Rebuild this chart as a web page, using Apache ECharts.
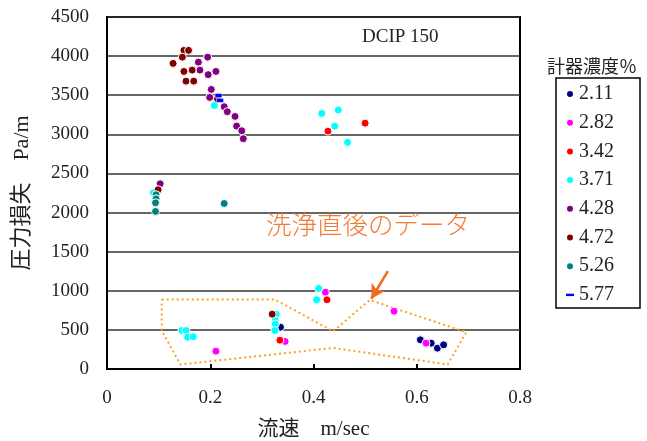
<!DOCTYPE html>
<html><head><meta charset="utf-8">
<script src="https://cdn.jsdelivr.net/npm/echarts@6/dist/echarts.min.js"></script>
<style>html,body{margin:0;padding:0;background:#fff}#c{width:647px;height:441px}</style>
</head><body><div id="c"></div>
<script>
// ---- data ----
const seriesNames = ['2.11', '2.82', '3.42', '3.71', '4.28', '4.72', '5.26', '5.77'];
const seriesColors = ['#000080', '#FF00FF', '#FF0000', '#00FFFF', '#800080', '#800000', '#008080', '#0000FF'];
const s211 = [[0.336, 534], [0.607, 373], [0.628, 330], [0.640, 266], [0.652, 309]];
const s282 = [[0.211, 228], [0.423, 982], [0.345, 352], [0.556, 739], [0.618, 330]];
const s342 = [[0.428, 3041], [0.500, 3143], [0.426, 885], [0.335, 368]];
const s371 = [[0.208, 3370], [0.416, 3267], [0.448, 3310], [0.441, 3105], [0.466, 2897], [0.090, 2253],
  [0.145, 492], [0.153, 492], [0.156, 407], [0.167, 411], [0.410, 1029], [0.406, 885],
  [0.328, 700], [0.326, 620], [0.326, 575], [0.325, 492]];
const s428 = [[0.195, 3987], [0.177, 3923], [0.180, 3821], [0.196, 3763], [0.211, 3804], [0.202, 3574],
  [0.199, 3472], [0.227, 3353], [0.233, 3289], [0.248, 3229], [0.251, 3105], [0.261, 3046],
  [0.264, 2944], [0.103, 2368]];
const s472 = [[0.149, 4073], [0.158, 4073], [0.146, 3987], [0.128, 3907], [0.149, 3804], [0.165, 3821],
  [0.153, 3680], [0.168, 3680], [0.214, 3455], [0.099, 2292], [0.320, 701]];
const s526 = [[0.094, 2014], [0.095, 2228], [0.095, 2176], [0.094, 2125], [0.227, 2116]];
const s577 = [[0.216, 3497], [0.219, 3433]];
const seriesData = [s211, s282, s342, s371, s428, s472, s526, s577];

// annotation: dotted outline around the "just after cleaning" data, and arrow
const outline = [[0.106, 889], [0.325, 889], [0.438, 482], [0.509, 882], [0.696, 471],
  [0.660, 58], [0.438, 269], [0.142, 58], [0.106, 492], [0.106, 889]];
const arrowFrom = [0.544, 1251];
const arrowTo = [0.512, 898];
const annotationText = '洗浄直後のデータ';
const panelText = 'DCIP 150';
const legendTitle = '計器濃度％';
const xName = '流速　m/sec';
const yName = '圧力損失　Pa/m';

const FONT = '"Liberation Serif", "Noto Sans CJK JP", serif';
const dashIcon = 'path://M0,0h10v3h-10z';

const chart = echarts.init(document.getElementById('c'), null, { renderer: 'canvas' });

const scatterSeries = seriesNames.map((n, i) => ({
  name: n,
  type: 'scatter',
  data: seriesData[i],
  symbol: i === 7 ? 'rect' : 'circle',
  symbolSize: i === 7 ? [7, 4] : 8,
  itemStyle: { color: seriesColors[i], borderColor: '#fff', borderWidth: i === 7 ? 0.5 : 1, opacity: 1 },
  emphasis: { disabled: true },
  z: 3
}));

const option = {
  animation: false,
  backgroundColor: '#fff',
  grid: { left: 107, top: 17, width: 413, height: 352, outerBoundsMode: 'none', containLabel: false,
    show: true, borderColor: '#000', borderWidth: 2, backgroundColor: 'transparent' },
  title: {
    text: legendTitle, left: 547, top: 59, padding: 0,
    textStyle: { fontFamily: FONT, fontSize: 18, fontWeight: 'normal', color: '#222' }
  },
  legend: {
    orient: 'vertical', left: 556, top: 78,
    padding: [6, 26, 3, 9],
    borderColor: '#000', borderWidth: 1.5,
    itemWidth: 8, itemHeight: 8, itemGap: 8.7, symbolKeepAspect: true,
    textStyle: { fontFamily: FONT, fontSize: 20, color: '#222', lineHeight: 20 },
    data: seriesNames.map((n, i) => i === 7
      ? { name: n, icon: dashIcon, itemStyle: { color: seriesColors[i], borderWidth: 0 } }
      : { name: n, icon: 'circle' })
  },
  xAxis: {
    type: 'value', min: 0, max: 0.8, interval: 0.2,
    name: xName, nameLocation: 'middle', nameGap: 50,
    nameTextStyle: { fontFamily: FONT, fontSize: 21, color: '#222' },
    axisLine: { show: true, onZero: false, lineStyle: { color: '#000', width: 2 } },
    axisTick: { show: true, inside: true, length: 5, lineStyle: { color: '#000', width: 2 } },
    axisLabel: { fontFamily: FONT, fontSize: 19, color: '#222', margin: 20, formatter: v => String(Math.round(v * 10) / 10) },
    splitLine: { show: false }
  },
  yAxis: {
    type: 'value', min: 0, max: 4500, interval: 500,
    name: yName, nameLocation: 'middle', nameGap: 74, nameRotate: 90,
    nameTextStyle: { fontFamily: FONT, fontSize: 22, color: '#222' },
    axisLine: { show: true, lineStyle: { color: '#000', width: 2 } },
    axisTick: { show: false },
    axisLabel: { fontFamily: FONT, fontSize: 19, color: '#222', margin: 18, formatter: v => String(v) },
    splitLine: { show: true, lineStyle: { color: '#333', width: 1.5 } }
  },
  graphic: [
    { type: 'text', left: 362, top: 28, style: { text: panelText, font: '19px ' + FONT, fill: '#222' }, z: 10 },
    { type: 'text', left: 266, top: 212, style: { text: annotationText, font: '300 25.5px "Noto Sans CJK JP", sans-serif', fill: '#F47A32' }, z: 10 }
  ],
  series: [
    {
      name: 'outline', type: 'line', data: outline, symbol: 'none', silent: true,
      lineStyle: { color: '#FFA020', width: 2, type: [2, 3] }, z: 2,
      markLine: {
        silent: true, symbol: ['none', 'arrow'], symbolSize: [12, 14],
        lineStyle: { color: '#F26B1D', width: 2.5, type: 'solid' },
        label: { show: false },
        data: [[{ coord: arrowFrom }, { coord: arrowTo }]]
      }
    },
    ...scatterSeries
  ]
};
chart.setOption(option);
</script>
</body></html>
